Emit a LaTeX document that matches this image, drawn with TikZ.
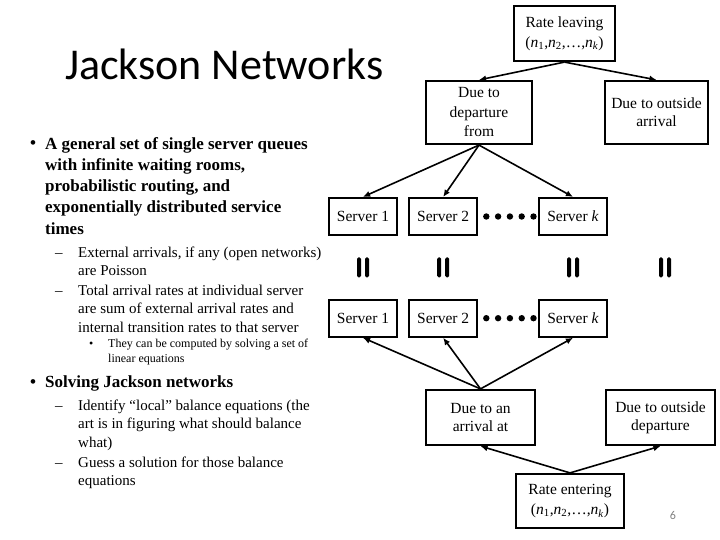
\documentclass[tikz,border=0pt]{standalone}
\usepackage{fontspec}
\setmainfont{Liberation Serif}
\newfontfamily\titlefont{Carlito}
\usetikzlibrary{
	arrows.meta,
	positioning,
	calc
}

\tikzset{
	flowbox/.style={draw, line width=2.2pt, align=center, inner sep=0pt, font=\fontsize{15.5}{18}\selectfont},
	serverbox/.style={draw, line width=2.2pt, minimum width=68pt, minimum height=37pt, inner sep=0pt, font=\fontsize{15.5}{18}\selectfont},
	flow/.style={line width=1.6pt, -{Latex[length=2.5mm, width=2.2mm]}},
	eqsign/.style={minimum width=12pt, minimum height=20pt, inner sep=0pt,
		path picture={
			\fill[rounded corners=1.5pt] (path picture bounding box.north west) rectangle ([xshift=4pt]path picture bounding box.south west);
			\fill[rounded corners=1.5pt] ([xshift=-4pt]path picture bounding box.north east) rectangle (path picture bounding box.south east);
		}},
	lvlA/.style={anchor=base west, inner sep=0pt, align=left, font=\bfseries\fontsize{17}{21.25}\selectfont},
	lvlB/.style={anchor=base west, inner sep=0pt, align=left, font=\fontsize{15}{18.7}\selectfont},
	lvlC/.style={anchor=base west, inner sep=0pt, align=left, font=\fontsize{12}{15.5}\selectfont}
}

\begin{document}
\begin{tikzpicture}[x=1pt, y=-1pt]

		\useasboundingbox (0,0) rectangle (720,540);

		\node[anchor=base west, inner sep=0pt, font=\titlefont\fontsize{44}{48}\selectfont] (title) at (65,80) {Jackson Networks};

		% multi-line texts sit on the baseline of their last line
		\node[lvlA] (b1) at (30,149) {\textbullet};
		\node[lvlA] (t1) at (45,234) {A general set of single server queues\\with infinite waiting rooms,\\probabilistic routing, and\\exponentially distributed service\\times};
		\node[lvlB] (d1) at (55,257) {--};
		\node[lvlB] (t2) at (78,275.7) {External arrivals, if any (open networks)\\are Poisson};
		\node[lvlB] (d2) at (55,295) {--};
		\node[lvlB] (t3) at (78,332.4) {Total arrival rates at individual server\\are sum of external arrival rates and\\internal transition rates to that server};
		\node[lvlC] (b2) at (89,347) {\textbullet};
		\node[lvlC] (t4) at (108,362.5) {They can be computed by solving a set of\\linear equations};
		\node[lvlA] (b3) at (30,387) {\textbullet};
		\node[lvlA] (t5) at (45,387) {Solving Jackson networks};
		\node[lvlB] (d3) at (55,410) {--};
		\node[lvlB] (t6) at (78,447.4) {Identify “local” balance equations (the\\art is in figuring what should balance\\what)};
		\node[lvlB] (d4) at (55,467) {--};
		\node[lvlB] (t7) at (78,485.7) {Guess a solution for those balance\\equations};

		\node[flowbox, minimum width=101pt, minimum height=55pt, font=\fontsize{15.5}{20}\selectfont] (leave) at (564.5,33.5) {Rate leaving\\(\textit{n}\textsubscript{1},\textit{n}\textsubscript{2},\ldots,\textit{n}\textsubscript{\textit{k}})};
		\node[flowbox, minimum width=106pt, minimum height=63pt, font=\fontsize{15.5}{19.5}\selectfont] (dep) at (479,112.5) {Due to\\departure\\from};
		\node[flowbox, minimum width=103pt, minimum height=63pt] (outarr) at (656.5,112.5) {Due to outside\\arrival};

		\node[serverbox] (a1) at (363,216.5) {Server 1};
		\node[serverbox, right=10pt of a1] (a2) {Server 2};
		\node[serverbox] (ak) at (573,216.5) {Server \textit{k}};

		\node[serverbox, below=62.5pt of a1] (c1) {Server 1};
		\node[serverbox, below=62.5pt of a2] (c2) {Server 2};
		\node[serverbox, below=62.5pt of ak] (ck) {Server \textit{k}};

		\foreach \i in {0,...,4} {
		\fill ($(a2.east)+(8+11.8*\i,0)$) circle (3.2pt);
		\fill ($(c2.east)+(8+11.8*\i,0)$) circle (3.2pt);
		}

		\node[eqsign] (eq1) at ($(a1)!.5!(c1)$) {};
		\node[eqsign] (eq2) at ($(a2)!.5!(c2)$) {};
		\node[eqsign] (eqk) at ($(ak)!.5!(ck)$) {};
		\node[eqsign] (eqo) at ($(eqk)+(92,0)$) {};

		\node[flowbox, minimum width=109pt, minimum height=55pt] (arr) at (480.5,417.5) {Due to an\\arrival at};
		\node[flowbox, minimum width=109pt, minimum height=55pt] (outdep) at (660.5,417.5) {Due to outside\\departure};
		\node[flowbox, minimum width=108pt, minimum height=54pt, font=\fontsize{15.5}{20}\selectfont] (enter) at (570,501) {Rate entering\\(\textit{n}\textsubscript{1},\textit{n}\textsubscript{2},\ldots,\textit{n}\textsubscript{\textit{k}})};

		\draw[flow] (leave.south) -- (dep.north);
		\draw[flow] (leave.south) -- (outarr.north);
		\foreach \s in {a1,a2,ak} {
		\draw[flow] (dep.south) -- (\s.north);
		}
		\foreach \s in {c1,c2,ck} {
		\draw[flow] (arr.north) -- (\s.south);
		}
		\draw[flow] (enter.north) -- (arr.south);
		\draw[flow] (enter.north) -- (outdep.south);

		\node[font=\titlefont\fontsize{12}{14}\selectfont, text=gray] (page) at (673,515) {6};

	\end{tikzpicture}
\end{document}
